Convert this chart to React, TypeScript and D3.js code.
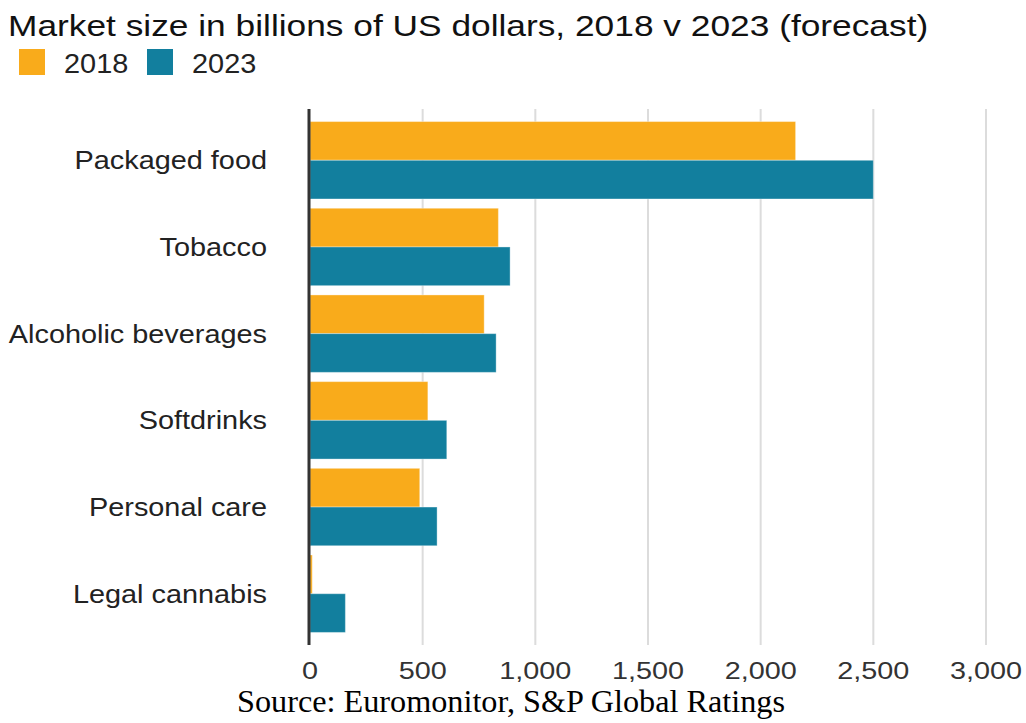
import React from "react";
import * as d3 from "d3";

// Market size in billions of US dollars
const categories = [
  "Packaged food",
  "Tobacco",
  "Alcoholic beverages",
  "Softdrinks",
  "Personal care",
  "Legal cannabis",
];
const values2018 = [2155, 836, 773, 523, 487, 10];
const values2023 = [2500, 888, 826, 607, 564, 157];
const seriesNames = ["2018", "2023"];
const seriesColors = ["#F9AB1B", "#127F9E"];
const xTicks = [0, 500, 1000, 1500, 2000, 2500, 3000];

const W = 1026;
const H = 723;
const plot = { left: 310, right: 986, top: 109, bottom: 645 };

const sans = "'Liberation Sans', Arial, Helvetica, sans-serif";
const serif = "'Liberation Serif', 'Times New Roman', serif";

// Text drawn with a horizontal stretch so the lettering is wide and open
function WideText(props: {
  x: number;
  y: number;
  sx: number;
  anchor?: "start" | "middle" | "end";
  dy?: string;
  size: number;
  family?: string;
  fill?: string;
  children: React.ReactNode;
}) {
  const { x, y, sx, anchor = "start", dy, size, family = sans, fill = "#222", children } = props;
  return (
    <text
      transform={`translate(${x},${y}) scale(${sx},1)`}
      textAnchor={anchor}
      dy={dy}
      fontFamily={family}
      fontSize={size}
      fill={fill}
    >
      {children}
    </text>
  );
}

export default function App() {
  const x = d3.scaleLinear().domain([0, 3000]).range([plot.left, plot.right]);
  const y = d3
    .scaleBand<string>()
    .domain(categories)
    .range([plot.top, plot.bottom])
    .paddingInner(0.107)
    .paddingOuter(0.145);
  const ySub = d3
    .scaleBand<string>()
    .domain(seriesNames)
    .range([0, y.bandwidth()]);
  const series = [values2018, values2023];
  const fmt = d3.format(",");

  return (
    <svg
      width={W}
      height={H}
      style={{ position: "absolute", left: 0, top: 0, background: "#fff" }}
    >
      <WideText x={8} y={36} sx={1.218} size={29} fill="#111">
        Market size in billions of US dollars, 2018 v 2023 (forecast)
      </WideText>

      {/* legend */}
      {seriesNames.map((name, i) => {
        const lx = [19, 147][i];
        return (
          <g key={name}>
            <rect x={lx} y={49} width={26} height={26} fill={seriesColors[i]} />
            <WideText x={lx + 45} y={73} sx={1.07} size={27}>
              {name}
            </WideText>
          </g>
        );
      })}

      {/* gridlines */}
      {xTicks.slice(1).map((t) => (
        <line
          key={t}
          x1={x(t)}
          x2={x(t)}
          y1={plot.top}
          y2={plot.bottom}
          stroke="#dcdcdc"
          strokeWidth={2}
        />
      ))}

      {/* bars */}
      {categories.map((c, ci) => (
        <g key={c} transform={`translate(0,${y(c)})`}>
          {series.map((vals, si) => (
            <rect
              key={si}
              x={x(0)}
              y={ySub(seriesNames[si])}
              width={x(vals[ci]) - x(0)}
              height={ySub.bandwidth()}
              fill={seriesColors[si]}
              stroke="rgba(255,255,255,0.35)"
              strokeWidth={1}
            />
          ))}
        </g>
      ))}

      {/* zero axis line, drawn over the bar bases */}
      <line
        x1={x(0) - 1}
        x2={x(0) - 1}
        y1={plot.top}
        y2={plot.bottom}
        stroke="#333"
        strokeWidth={3}
      />

      {/* category labels */}
      {categories.map((c) => (
        <WideText
          key={c}
          x={267}
          y={(y(c) as number) + y.bandwidth() / 2}
          dy="0.35em"
          anchor="end"
          sx={1.11}
          size={26}
        >
          {c}
        </WideText>
      ))}

      {/* x tick labels */}
      {xTicks.map((t) => (
        <WideText key={t} x={x(t)} y={679} anchor="middle" sx={1.2} size={24} fill="#333">
          {fmt(t)}
        </WideText>
      ))}

      <WideText x={511} y={712} anchor="middle" sx={1.04} size={31} family={serif} fill="#000">
        Source: Euromonitor, S&amp;P Global Ratings
      </WideText>
    </svg>
  );
}
